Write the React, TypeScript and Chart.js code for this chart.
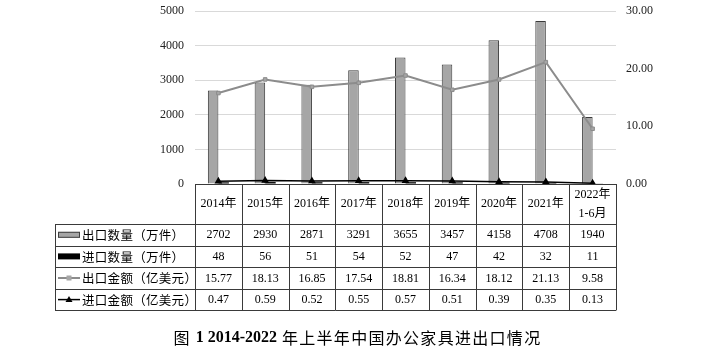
import React, { useEffect, useRef } from "react";
import { Chart, registerables } from "chart.js";

Chart.register(...registerables);

const categories: (string | string[])[] = [
  "2014年", "2015年", "2016年", "2017年", "2018年", "2019年", "2020年", "2021年", ["2022年", "1-6月"],
];
const exportQty = [2702, 2930, 2871, 3291, 3655, 3457, 4158, 4708, 1940];
const importQty = [48, 56, 51, 54, 52, 47, 42, 32, 11];
const exportAmt = [15.77, 18.13, 16.85, 17.54, 18.81, 16.34, 18.12, 21.13, 9.58];
const importAmt = [0.47, 0.59, 0.52, 0.55, 0.57, 0.51, 0.39, 0.35, 0.13];
const exportAmtText = ["15.77", "18.13", "16.85", "17.54", "18.81", "16.34", "18.12", "21.13", "9.58"];
const importAmtText = ["0.47", "0.59", "0.52", "0.55", "0.57", "0.51", "0.39", "0.35", "0.13"];
const seriesNames = ["出口数量（万件）", "进口数量（万件）", "出口金额（亿美元）", "进口金额（亿美元）"];
const titleParts = ["图 ", "1 2014-2022", " 年上半年中国办公家具进出口情况"];

const SERIF = "'Liberation Serif', 'Noto Sans CJK SC', serif";
const CJK = "'Noto Sans CJK SC', sans-serif";

const tablePlugin = {
  id: "dataTable",
  afterDraw(chart: any) {
    const ctx: CanvasRenderingContext2D = chart.ctx;
    const area = chart.chartArea;
    const xs = chart.scales.x;
    const n = categories.length;
    const cw = (area.right - area.left) / n;
    const px = (v: number) => Math.round(v) + 0.5;
    const top = area.bottom;
    const headerBottom = top + 40;
    const rowH = 21.6;
    const legendLeft = 55;
    const tableBottom = headerBottom + rowH * 4;
    ctx.save();
    ctx.strokeStyle = "#3a3a3a";
    ctx.lineWidth = 1;
    ctx.beginPath();
    ctx.moveTo(area.left, px(top));
    ctx.lineTo(area.right, px(top));
    for (let r = 0; r <= 4; r++) {
      const y = px(headerBottom + r * rowH);
      ctx.moveTo(legendLeft, y);
      ctx.lineTo(area.right, y);
    }
    for (let i = 0; i <= n; i++) {
      const x = i < n ? xs.getPixelForValue(i) - cw / 2 : xs.getPixelForValue(n - 1) + cw / 2;
      ctx.moveTo(px(x), top);
      ctx.lineTo(px(x), tableBottom);
    }
    ctx.moveTo(px(legendLeft), headerBottom);
    ctx.lineTo(px(legendLeft), tableBottom);
    ctx.stroke();

    ctx.fillStyle = "#000";
    ctx.textAlign = "center";
    ctx.textBaseline = "middle";
    ctx.font = `12px ${SERIF}`;
    categories.forEach((c, i) => {
      const cx = xs.getPixelForValue(i);
      if (Array.isArray(c)) {
        ctx.fillText(c[0], cx, top + 11);
        ctx.fillText(c[1], cx, top + 30);
      } else {
        ctx.fillText(c, cx, top + 20);
      }
    });
    const rows = [
      exportQty.map(String),
      importQty.map(String),
      exportAmtText,
      importAmtText,
    ];
    rows.forEach((row, r) => {
      const cy = headerBottom + r * rowH + rowH / 2 + 0.5;
      row.forEach((t, i) => ctx.fillText(t, xs.getPixelForValue(i), cy));
    });

    // legend column
    seriesNames.forEach((name, r) => {
      const cy = headerBottom + r * rowH + rowH / 2;
      const x0 = legendLeft + 3;
      if (r === 0) {
        ctx.fillStyle = "#a6a6a6";
        ctx.fillRect(x0, cy - 3, 22, 6);
        ctx.strokeStyle = "#404040";
        ctx.strokeRect(x0 + 0.5, cy - 2.5, 21, 5);
      } else if (r === 1) {
        ctx.fillStyle = "#000";
        ctx.fillRect(x0, cy - 3, 22, 6);
      } else if (r === 2) {
        ctx.strokeStyle = "#8c8c8c";
        ctx.lineWidth = 2;
        ctx.beginPath();
        ctx.moveTo(x0, cy);
        ctx.lineTo(x0 + 22, cy);
        ctx.stroke();
        ctx.fillStyle = "#a6a6a6";
        ctx.fillRect(x0 + 8.5, cy - 2.5, 5, 5);
        ctx.lineWidth = 1;
      } else {
        ctx.strokeStyle = "#000";
        ctx.lineWidth = 1.5;
        ctx.beginPath();
        ctx.moveTo(x0, cy);
        ctx.lineTo(x0 + 22, cy);
        ctx.stroke();
        ctx.fillStyle = "#000";
        ctx.beginPath();
        ctx.moveTo(x0 + 11, cy - 3.5);
        ctx.lineTo(x0 + 14.5, cy + 2.5);
        ctx.lineTo(x0 + 7.5, cy + 2.5);
        ctx.closePath();
        ctx.fill();
        ctx.lineWidth = 1;
      }
      ctx.fillStyle = "#000";
      ctx.textAlign = "left";
      ctx.font = `12.5px ${CJK}`;
      (ctx as any).letterSpacing = "0.3px";
      ctx.fillText(name, legendLeft + 27, cy + 0.5);
      (ctx as any).letterSpacing = "0px";
    });

    // title
    const fonts = [`16px ${CJK}`, `bold 16px 'Liberation Serif', serif`, `16px ${CJK}`];
    const spacing = ["1.3px", "0px", "1.3px"];
    let total = 0;
    const widths = titleParts.map((t, i) => {
      ctx.font = fonts[i];
      (ctx as any).letterSpacing = spacing[i];
      const w = ctx.measureText(t).width;
      total += w;
      return w;
    });
    let tx = 357.5 - total / 2;
    ctx.textAlign = "left";
    ctx.fillStyle = "#000";
    titleParts.forEach((t, i) => {
      ctx.font = fonts[i];
      (ctx as any).letterSpacing = spacing[i];
      ctx.fillText(t, tx, 338);
      tx += widths[i];
    });
    (ctx as any).letterSpacing = "0px";
    ctx.restore();
  },
};

export default function App() {
  const ref = useRef<HTMLCanvasElement>(null);
  useEffect(() => {
    if (!ref.current) return;
    const chart = new Chart(ref.current, {
      type: "bar",
      data: {
        labels: categories as any,
        datasets: [
          {
            type: "bar",
            label: seriesNames[0],
            data: exportQty,
            backgroundColor: "#a6a6a6",
            borderColor: "#3a3a3a",
            borderWidth: 1,
            yAxisID: "y",
            order: 2,
            categoryPercentage: 0.45,
            barPercentage: 1,
          },
          {
            type: "bar",
            label: seriesNames[1],
            data: importQty,
            backgroundColor: "#000",
            borderColor: "#000",
            borderWidth: 0,
            yAxisID: "y",
            order: 2,
            categoryPercentage: 0.45,
            barPercentage: 1,
          },
          {
            type: "line",
            label: seriesNames[2],
            data: exportAmt,
            borderColor: "#8c8c8c",
            borderWidth: 2,
            pointStyle: "rect",
            pointRadius: 2.5,
            pointBackgroundColor: "#a6a6a6",
            pointBorderColor: "#8c8c8c",
            pointBorderWidth: 1,
            yAxisID: "y1",
            order: 1,
          },
          {
            type: "line",
            label: seriesNames[3],
            data: importAmt,
            borderColor: "#000",
            borderWidth: 1.5,
            pointStyle: "triangle",
            pointRadius: 3,
            pointBackgroundColor: "#000",
            pointBorderColor: "#000",
            yAxisID: "y1",
            order: 0,
          },
        ] as any,
      },
      options: {
        animation: false,
        responsive: true,
        maintainAspectRatio: false,
        layout: { padding: { top: 11, bottom: 171, left: 0, right: 0 } },
        plugins: { legend: { display: false }, tooltip: { enabled: false }, title: { display: false } },
        scales: {
          x: { display: false },
          y: {
            position: "left",
            min: 0,
            max: 5000,
            ticks: {
              stepSize: 1000,
              padding: 11,
              color: "#222",
              font: { family: SERIF, size: 12 },
              callback: (v: any) => String(v),
            },
            grid: { color: "#d9d9d9", drawTicks: false },
            border: { display: false },
            afterFit: (s: any) => { s.width = 195; s.paddingTop = 0; s.paddingBottom = 0; },
          },
          y1: {
            position: "right",
            min: 0,
            max: 30,
            ticks: {
              stepSize: 10,
              padding: 10,
              color: "#222",
              font: { family: SERIF, size: 12 },
              callback: (v: any) => Number(v).toFixed(2),
            },
            grid: { display: false, drawTicks: false },
            border: { display: false },
            afterFit: (s: any) => { s.width = 111; s.paddingTop = 0; s.paddingBottom = 0; },
          },
        },
      } as any,
      plugins: [tablePlugin],
    });
    return () => chart.destroy();
  }, []);
  return (
    <div style={{ position: "absolute", left: 0, top: 0, width: 727, height: 355, background: "#fff" }}>
      <canvas ref={ref} />
    </div>
  );
}
